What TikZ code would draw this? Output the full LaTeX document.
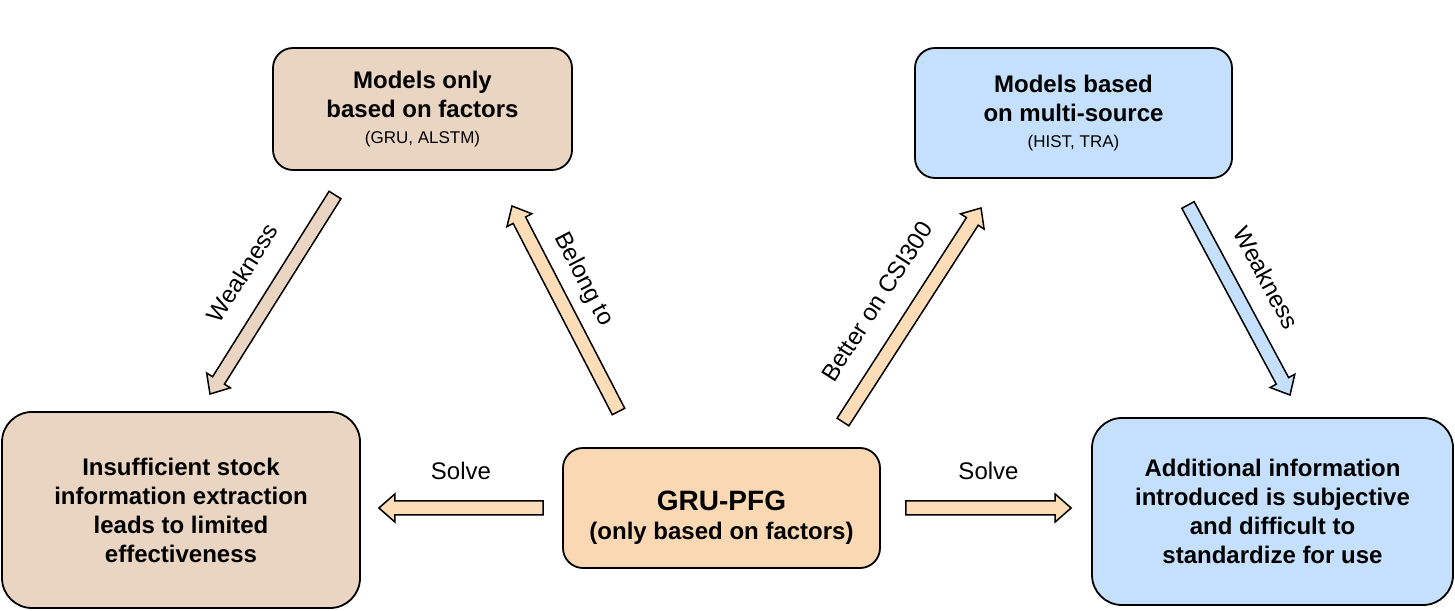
\documentclass[tikz,border=0pt]{standalone}
\usepackage{fontspec}
\setmainfont{Liberation Sans}
\usetikzlibrary{calc, positioning}

\definecolor{tanfill}{HTML}{E9D5C2}
\definecolor{peachfill}{HTML}{FAD8B4}
\definecolor{peacharrow}{HTML}{FDDDB8}
\definecolor{bluefill}{HTML}{C4E0FD}

\begin{document}
\begin{tikzpicture}[
    x=1pt, y=1pt,
    box/.style={rectangle, draw, line width=1.8pt, rounded corners=20pt, align=center, inner sep=0pt, font=\fontsize{24}{29}\selectfont\bfseries},
    bigbox/.style={box, rounded corners=30pt},
    lbl/.style={font=\fontsize{24}{29}\selectfont, inner sep=2pt},
    fatarrow/.style={draw=black, line width=1.5pt, fill=#1, line join=miter,
        to path={($(\tikztotarget)!16pt!(\tikztostart)$) coordinate (neck)
            ($(\tikztostart)!7pt!90:(\tikztotarget)$)
            -- ($(neck)!7pt!90:(\tikztotarget)$)
            -- ($(neck)!14pt!90:(\tikztotarget)$)
            -- (\tikztotarget)
            -- ($(neck)!14pt!-90:(\tikztotarget)$)
            -- ($(neck)!7pt!-90:(\tikztotarget)$)
            -- ($(\tikztostart)!7pt!-90:(\tikztotarget)$)
            -- cycle}}
]
    \useasboundingbox (0,0) rectangle (1455,610);

    % Related models
    \node[box, fill=tanfill, minimum width=299pt, minimum height=122pt] (factor) at (422.5,501) {Models only\\based on factors\\[-3pt]{\fontsize{17}{20}\selectfont\mdseries (GRU, ALSTM)}};
    \node[box, fill=bluefill, minimum width=317pt, minimum height=130pt] (multi) at (1073.5,497) {Models based\\on multi-source\\[-3pt]{\fontsize{17}{20}\selectfont\mdseries (HIST, TRA)}};

    % Weaknesses
    \node[bigbox, fill=tanfill, minimum width=358pt, minimum height=196pt] (limit) at (181,100) {Insufficient stock\\information extraction\\leads to limited\\effectiveness};
    \node[bigbox, fill=bluefill, minimum width=361pt, minimum height=187pt] (subj) at (1272.5,98.5) {Additional information\\introduced is subjective\\and difficult to\\standardize for use};

    % Our model
    \node[box, fill=peachfill, minimum width=317pt, minimum height=120pt] (pfg) at (721.5,102) {\rule{0pt}{38pt}{\fontsize{28}{32}\selectfont GRU-PFG}\\(only based on factors)};

    % Arrow ends
    \coordinate (wk1t) at (335,415);
    \coordinate (wk1h) at (210,216);
    \coordinate (belt) at (618.5,198.5);
    \coordinate (belh) at (512,404);
    \coordinate (bett) at (843,188);
    \coordinate (beth) at (981,402);
    \coordinate (wk2t) at (1188,405);
    \coordinate (wk2h) at (1290,215);
    \coordinate[left=19pt of pfg.west] (sol1t);
    \coordinate (sol1h) at ([xshift=18pt]limit.east |- pfg.west);
    \coordinate[right=25pt of pfg.east] (sol2t);
    \coordinate (sol2h) at ([xshift=-20pt]subj.west |- pfg.east);

    % Arrows
    \draw[fatarrow=tanfill] (wk1t) to (wk1h);
    \draw[fatarrow=peacharrow] (belt) to (belh);
    \draw[fatarrow=peacharrow] (bett) to (beth);
    \draw[fatarrow=bluefill] (wk2t) to (wk2h);
    \draw[fatarrow=peacharrow] (sol1t) to (sol1h);
    \draw[fatarrow=peacharrow] (sol2t) to (sol2h);

    % Labels
    \path (wk1t) -- node[lbl, sloped, pos=0.49, above=26pt] {Weakness} (wk1h);
    \path (belt) -- node[lbl, sloped, pos=0.575, above=16pt] {Belong to} (belh);
    \path (bett) -- node[lbl, sloped, pos=0.47, above=26pt] {Better on CSI300} (beth);
    \path (wk2t) -- node[lbl, sloped, pos=0.47, above=24pt] {Weakness} (wk2h);
    \path (sol1t) -- node[lbl, above=26pt] {Solve} (sol1h);
    \path (sol2t) -- node[lbl, above=26pt] {Solve} (sol2h);

\end{tikzpicture}
\end{document}
